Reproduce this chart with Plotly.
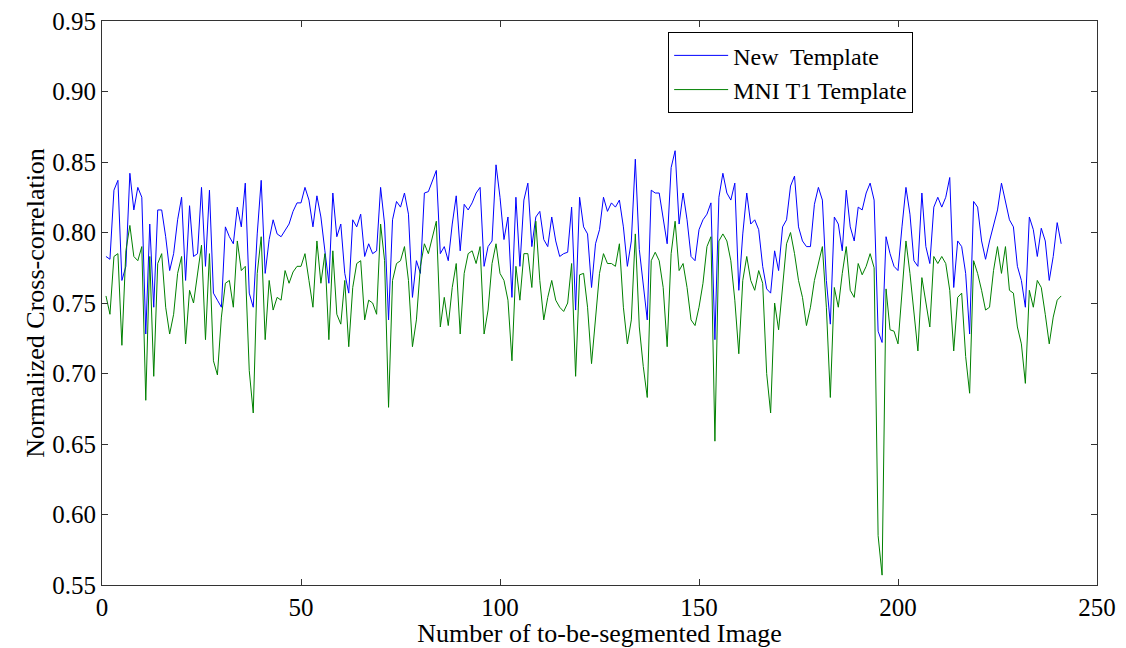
import plotly.graph_objects as go

x_index = list(range(1, 242))

new_template = [
0.783,0.781,0.830,0.837,0.766,0.776,0.842,0.816,0.832,0.825,
0.728,0.806,0.747,0.816,0.816,0.797,0.773,0.785,0.809,0.825,
0.766,0.819,0.783,0.785,0.832,0.776,0.830,0.757,0.752,0.747,
0.804,0.797,0.792,0.818,0.804,0.835,0.757,0.747,0.799,0.837,
0.771,0.795,0.809,0.799,0.797,0.802,0.806,0.815,0.821,0.821,
0.832,0.823,0.804,0.826,0.811,0.787,0.764,0.828,0.797,0.806,
0.771,0.757,0.809,0.804,0.813,0.783,0.792,0.785,0.787,0.832,
0.806,0.738,0.809,0.822,0.818,0.828,0.813,0.754,0.780,0.771,
0.828,0.829,0.836,0.844,0.785,0.790,0.780,0.806,0.826,0.787,
0.820,0.816,0.821,0.828,0.832,0.776,0.790,0.794,0.848,0.825,
0.795,0.811,0.754,0.825,0.776,0.823,0.835,0.790,0.811,0.815,
0.795,0.790,0.811,0.794,0.783,0.785,0.786,0.818,0.745,0.825,
0.804,0.799,0.761,0.792,0.802,0.825,0.815,0.821,0.818,0.823,
0.804,0.776,0.794,0.852,0.788,0.761,0.738,0.830,0.828,0.828,
0.809,0.792,0.846,0.858,0.806,0.828,0.809,0.783,0.780,0.802,
0.809,0.813,0.821,0.724,0.825,0.842,0.828,0.823,0.835,0.759,
0.799,0.828,0.806,0.809,0.802,0.776,0.760,0.757,0.787,0.773,
0.804,0.809,0.833,0.840,0.804,0.794,0.790,0.790,0.820,0.832,
0.823,0.766,0.735,0.811,0.806,0.787,0.830,0.804,0.794,0.818,
0.816,0.828,0.835,0.823,0.730,0.722,0.797,0.785,0.776,0.773,
0.804,0.832,0.813,0.780,0.776,0.828,0.790,0.778,0.818,0.825,
0.818,0.825,0.839,0.761,0.794,0.790,0.771,0.728,0.822,0.818,
0.794,0.781,0.794,0.806,0.816,0.835,0.823,0.809,0.804,0.776,
0.766,0.747,0.811,0.802,0.783,0.803,0.794,0.766,0.783,0.807,
0.792]

mni_t1_template = [
0.755,0.742,0.783,0.785,0.720,0.787,0.805,0.783,0.780,0.790,
0.681,0.783,0.698,0.778,0.785,0.747,0.728,0.742,0.771,0.783,
0.721,0.759,0.750,0.770,0.791,0.724,0.785,0.709,0.699,0.740,
0.764,0.766,0.747,0.794,0.773,0.776,0.702,0.672,0.771,0.797,
0.724,0.766,0.745,0.754,0.752,0.773,0.764,0.772,0.776,0.776,
0.785,0.766,0.747,0.794,0.764,0.785,0.724,0.787,0.742,0.735,
0.766,0.719,0.761,0.778,0.780,0.738,0.752,0.750,0.742,0.806,
0.780,0.676,0.766,0.778,0.780,0.790,0.766,0.719,0.738,0.776,
0.792,0.785,0.797,0.808,0.733,0.754,0.734,0.761,0.778,0.728,
0.771,0.785,0.787,0.778,0.790,0.728,0.745,0.778,0.792,0.771,
0.766,0.752,0.709,0.776,0.752,0.785,0.785,0.761,0.808,0.766,
0.738,0.754,0.766,0.752,0.747,0.744,0.750,0.778,0.698,0.770,
0.771,0.747,0.707,0.740,0.771,0.785,0.778,0.778,0.776,0.792,
0.747,0.721,0.738,0.799,0.733,0.705,0.683,0.780,0.786,0.780,
0.761,0.719,0.785,0.808,0.773,0.778,0.761,0.738,0.734,0.747,
0.764,0.790,0.797,0.652,0.794,0.799,0.794,0.780,0.752,0.714,
0.766,0.783,0.766,0.759,0.773,0.764,0.700,0.672,0.750,0.731,
0.759,0.792,0.800,0.785,0.766,0.754,0.734,0.747,0.766,0.778,
0.790,0.747,0.683,0.761,0.747,0.771,0.790,0.759,0.754,0.778,
0.770,0.776,0.785,0.775,0.585,0.557,0.760,0.731,0.730,0.721,
0.761,0.794,0.771,0.742,0.716,0.768,0.750,0.733,0.783,0.778,
0.783,0.778,0.759,0.716,0.754,0.757,0.712,0.686,0.780,0.771,
0.759,0.745,0.747,0.773,0.790,0.771,0.790,0.759,0.757,0.733,
0.721,0.693,0.759,0.747,0.766,0.761,0.742,0.721,0.740,0.752,
0.755]

x_ticks = [0, 50, 100, 150, 200, 250]
y_ticks = [0.55, 0.60, 0.65, 0.70, 0.75, 0.80, 0.85, 0.90, 0.95]
y_tick_text = ["0.55", "0.60", "0.65", "0.70", "0.75", "0.80", "0.85", "0.90", "0.95"]

font_family = "Liberation Serif"

fig = go.Figure()
fig.add_trace(go.Scatter(x=x_index, y=new_template, mode="lines",
                         name="New  Template",
                         line=dict(color="#0000FF", width=1)))
fig.add_trace(go.Scatter(x=x_index, y=mni_t1_template, mode="lines",
                         name="MNI T1 Template",
                         line=dict(color="#008000", width=1)))

axis_common = dict(
    showline=True, linecolor="#333333", linewidth=1, mirror="allticks",
    ticks="inside", ticklen=6, tickcolor="#333333",
    showgrid=False, zeroline=False, automargin=False,
    tickfont=dict(family=font_family, size=25, color="black"),
)

fig.update_layout(
    width=1126, height=648,
    margin=dict(l=102, r=29, t=21, b=63),
    paper_bgcolor="white", plot_bgcolor="white",
    font=dict(family=font_family, size=25, color="black"),
    xaxis=dict(range=[0, 250], tickvals=x_ticks,
               title=dict(text="Number of to-be-segmented Image", standoff=2,
                          font=dict(family=font_family, size=26)),
               **axis_common),
    yaxis=dict(range=[0.55, 0.95], tickvals=y_ticks, ticktext=y_tick_text,
               title=dict(text="Normalized Cross-correlation", standoff=0,
                          font=dict(family=font_family, size=26)),
               **axis_common),
    legend=dict(x=0.569, y=0.98, xanchor="left", yanchor="top",
                bgcolor="white", bordercolor="black", borderwidth=1,
                font=dict(family=font_family, size=24),
                itemwidth=54, tracegroupgap=0),
    showlegend=True,
)

fig.write_html("out.html")
